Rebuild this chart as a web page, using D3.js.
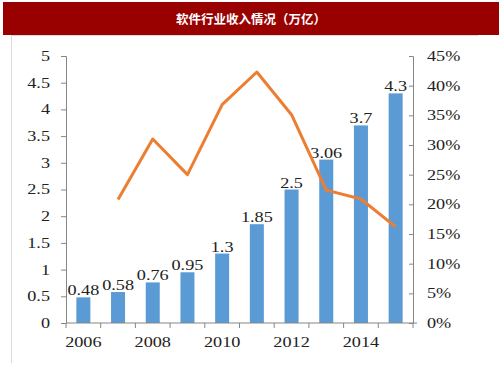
<!DOCTYPE html>
<html><head><meta charset="utf-8">
<script src="https://cdn.jsdelivr.net/npm/d3@7"></script>
<style>
html,body{margin:0;padding:0;background:#fff;}
svg{display:block;}
</style></head>
<body>
<svg id="chart" width="503" height="378"></svg>
<script>
const title = "软件行业收入情况（万亿）";
const years = ["2006","2007","2008","2009","2010","2011","2012","2013","2014","2015"];
const revenue = [0.48,0.58,0.76,0.95,1.3,1.85,2.5,3.06,3.7,4.3];
const growthYears = ["2007","2008","2009","2010","2011","2012","2013","2014","2015"];
const growth = [20.8,31.0,25.0,36.8,42.3,35.1,22.4,20.9,16.2];
const xTickLabels = ["2006","2008","2010","2012","2014"];
const leftTicks = [0,0.5,1,1.5,2,2.5,3,3.5,4,4.5,5];
const rightTicks = [0,5,10,15,20,25,30,35,40,45];

(function(){
const svg = d3.select("#chart");
const pL = 66, pR = 413, pT = 56, pB = 323;
const serif = "'Liberation Serif','Times New Roman',serif";
const stretch = 1.3;

// banner
svg.append("rect").attr("x",3).attr("y",2).attr("width",496).attr("height",33).attr("fill","#990000");
svg.append("text").attr("x",251).attr("y",23.5).attr("text-anchor","middle")
  .attr("fill","#fff").attr("font-family","'Noto Sans CJK SC',sans-serif")
  .attr("font-size",12.5).attr("font-weight","bold").text(title);

// panel border (top and left)
svg.append("line").attr("x1",11).attr("x2",478).attr("y1",35.5).attr("y2",35.5).attr("stroke","#d9d9d9");
svg.append("line").attr("x1",11.5).attr("x2",11.5).attr("y1",35).attr("y2",363).attr("stroke","#d9d9d9");

const xb = d3.scaleBand().domain(years).range([pL,pR]);
const yL = d3.scaleLinear().domain([0,5]).range([pB,pT]);
const yR = d3.scaleLinear().domain([0,45]).range([pB,pT]);
const cx = y => xb(y)+xb.bandwidth()/2;

// bars
svg.append("g").selectAll("rect").data(revenue).join("rect")
  .attr("x",(d,i)=>cx(years[i])-7)
  .attr("width",14)
  .attr("y",d=>yL(d)).attr("height",d=>yL(0)-yL(d))
  .attr("fill","#5B9BD5");

// bar labels
svg.append("g").selectAll("text").data(revenue).join("text")
  .attr("class","st")
  .attr("x",(d,i)=>cx(years[i]))
  .attr("y",d=>yL(d)-2)
  .attr("text-anchor","middle")
  .attr("font-family",serif).attr("font-size",14).attr("fill","#222")
  .text(d=>d);

// line
const line = d3.line().x((d,i)=>cx(growthYears[i])).y(d=>yR(d));
svg.append("path").datum(growth).attr("d",line).attr("fill","none")
  .attr("stroke","#ED7D31").attr("stroke-width",3).attr("stroke-linejoin","round");

// axes
const axisColor = "#868686";
const gL = svg.append("g").attr("transform",`translate(${pL},0)`)
  .call(d3.axisLeft(yL).tickValues(leftTicks).tickSize(5).tickPadding(11).tickFormat(d=>d));
const gR = svg.append("g").attr("transform",`translate(${pR},0)`)
  .call(d3.axisRight(yR).tickValues(rightTicks).tickSize(-4).tickPadding(14).tickFormat(d=>d+"%"));
const boundaries = years.map(y=>xb(y)).concat([pR]);
const gX = svg.append("g").attr("transform",`translate(0,${pB})`);
gX.append("line").attr("x1",pL).attr("x2",pR+4).attr("stroke",axisColor);
gX.selectAll(".tk").data(boundaries).join("line").attr("class","tk")
  .attr("x1",d=>d).attr("x2",d=>d).attr("y1",0).attr("y2",5).attr("stroke",axisColor);
gX.selectAll("text").data(xTickLabels).join("text").attr("class","st")
  .attr("x",d=>cx(d)).attr("y",24)
  .attr("text-anchor","middle").attr("font-family",serif).attr("font-size",14).attr("fill","#222")
  .text(d=>d);

[gL,gR].forEach(g=>{
  g.select(".domain").attr("stroke",axisColor);
  g.selectAll(".tick line").attr("stroke",axisColor);
  g.selectAll(".tick text").attr("class","st").attr("font-family",serif).attr("font-size",14).attr("fill","#222");
});

// horizontal stretch of serif labels
svg.selectAll("text.st").each(function(){
  const L = this.getComputedTextLength();
  d3.select(this).attr("textLength",L*stretch).attr("lengthAdjust","spacingAndGlyphs");
});
})();
</script>
</body></html>
